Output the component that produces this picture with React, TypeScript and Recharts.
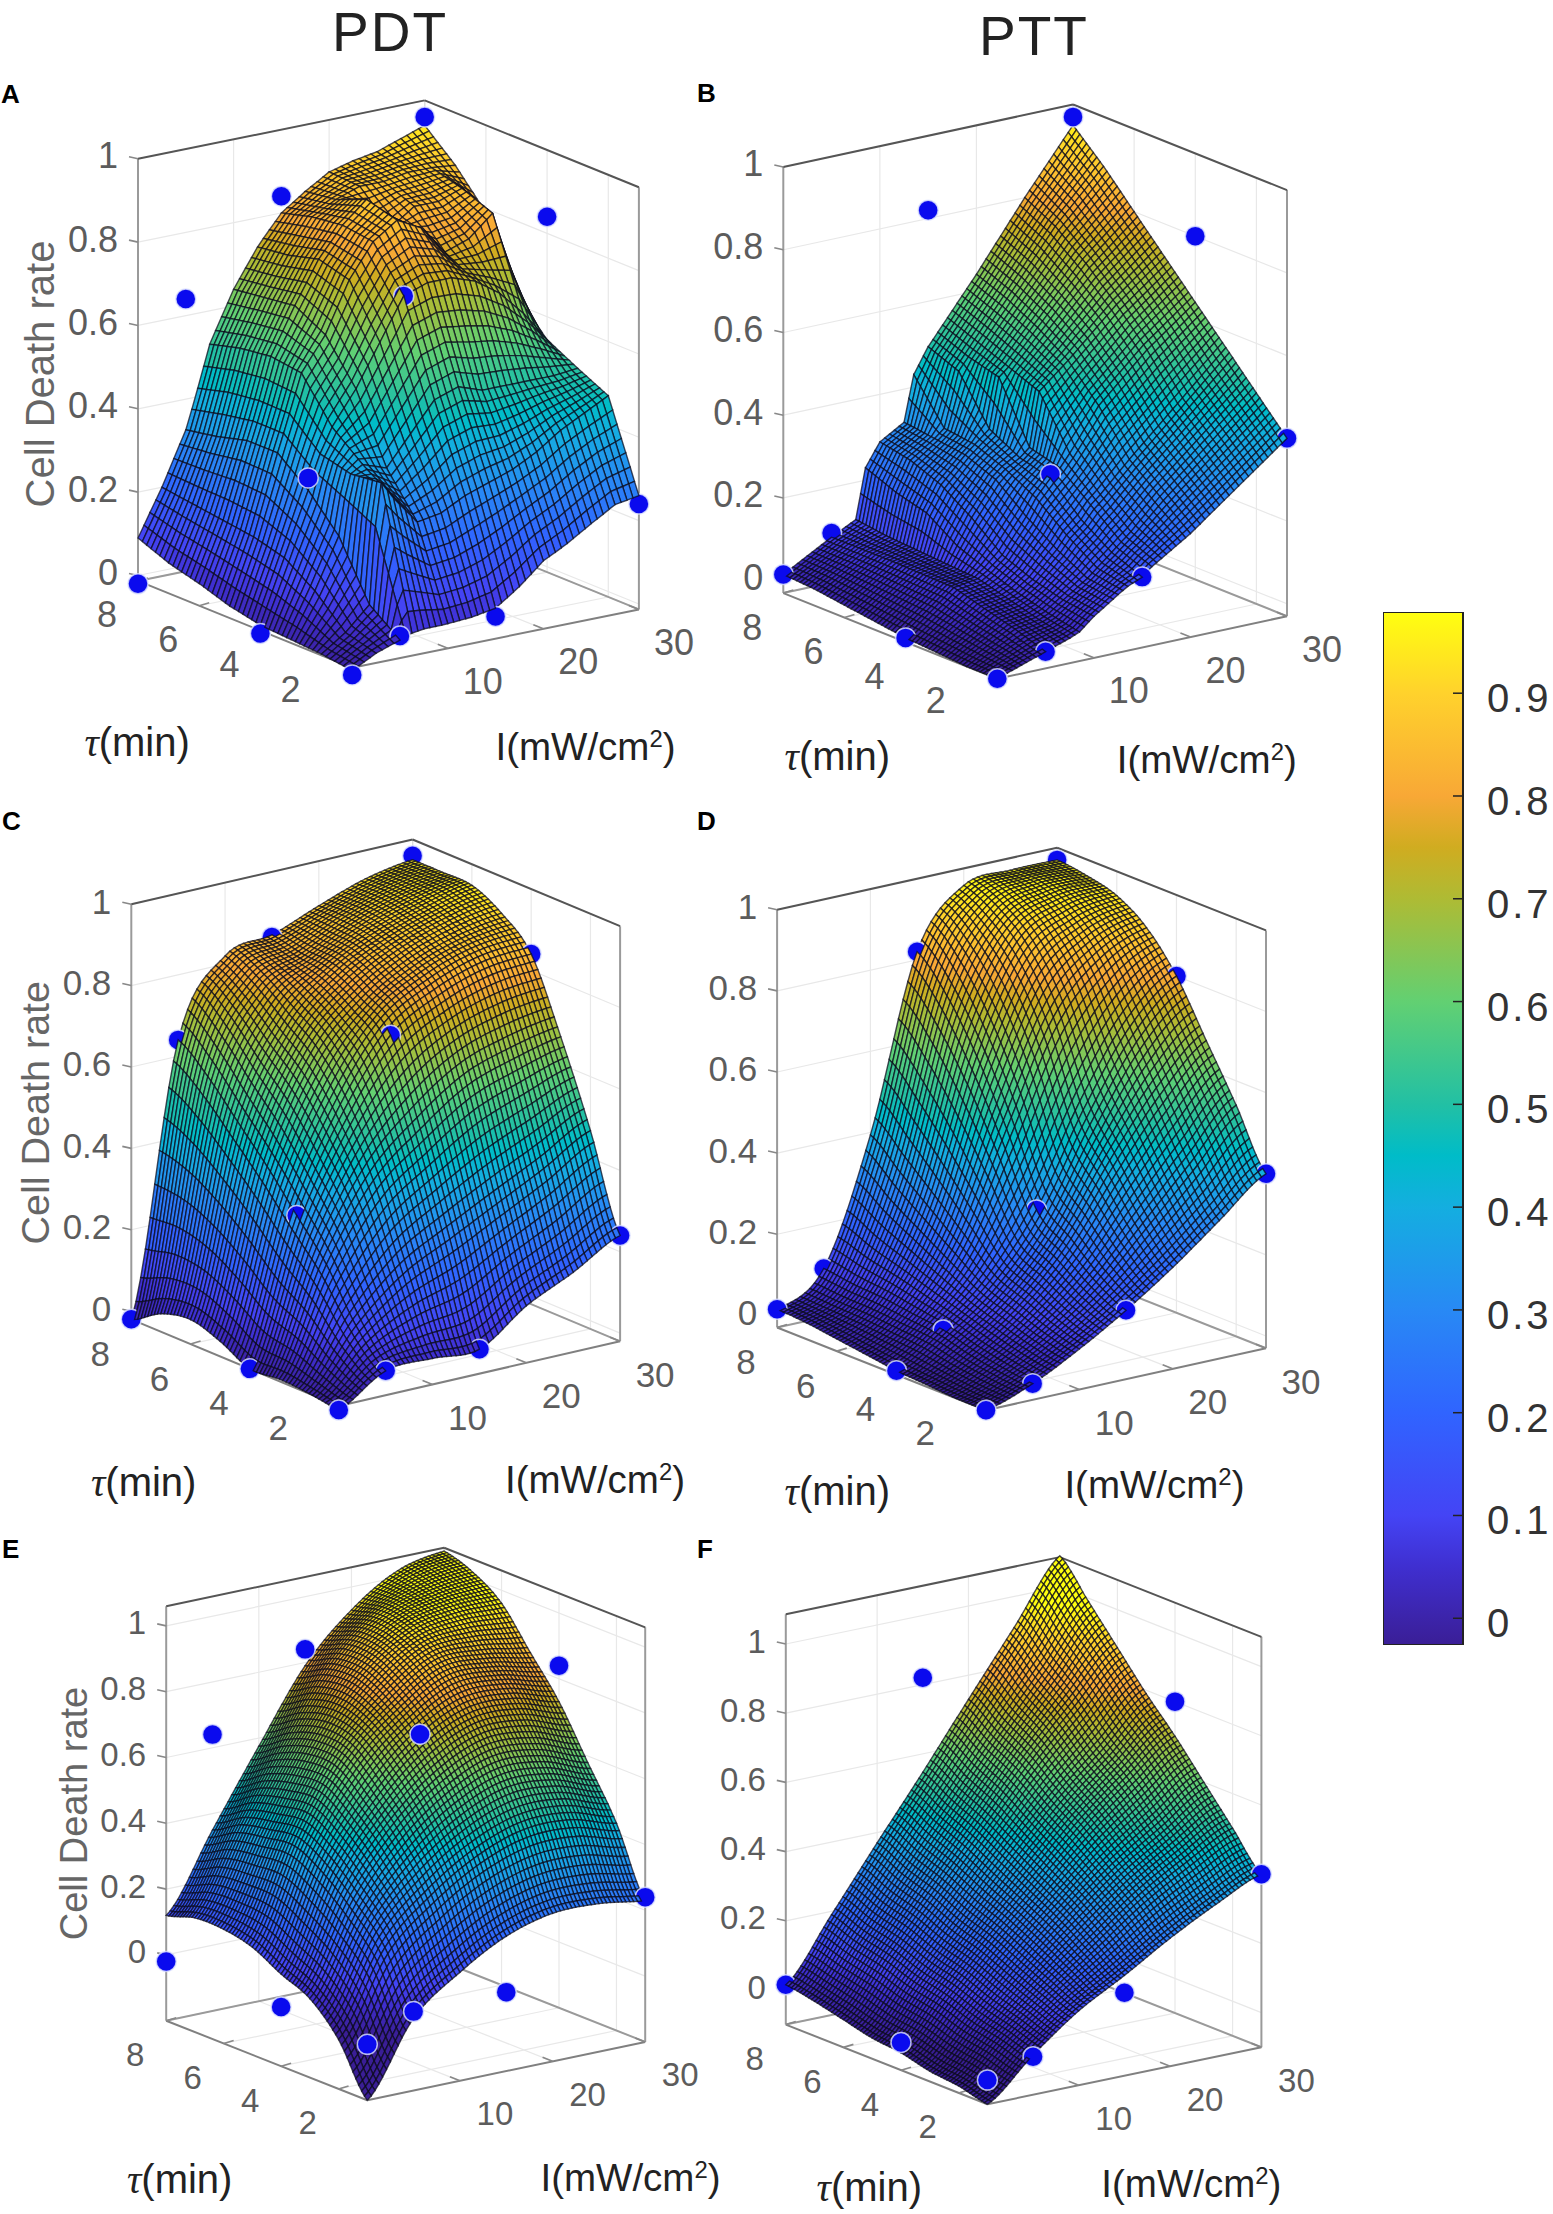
import React from 'react';
import { ScatterChart, Scatter, XAxis, YAxis, ComposedChart, Bar } from 'recharts';

const TAU_GRID = [1, 2, 3, 4, 5, 6, 7, 8];
const INTENSITY_GRID = [0, 5, 10, 15, 20, 25, 30];
const INTENSITY_GRID_A = [0, 2.5, 5, 6, 7.5, 10, 12.5, 15, 17.5, 20, 22.5, 25, 27.5, 30];
const INTENSITY_GRID_B = [0, 5, 7.5, 8.5, 10, 12.5, 13.5, 15, 16, 17, 20, 25, 30];
const Z_TICKS = [0, 0.2, 0.4, 0.6, 0.8, 1];
const TAU_TICKS = [2, 4, 6, 8];
const INTENSITY_TICKS = [10, 20, 30];
const COLORBAR_TICKS = [0, 0.1, 0.2, 0.3, 0.4, 0.5, 0.6, 0.7, 0.8, 0.9];

// surfaces: one row per tau in TAU_GRID, one column per intensity in the panel's grid
const SURFACE_A = [
  [-0.02, 0.01, 0.03, 0.04, 0.045, 0.046, 0.05, 0.06, 0.1, 0.15, 0.18, 0.216, 0.25, 0.26],
  [-0.01, 0.03, 0.085, 0.38, 0.33, 0.26, 0.27, 0.3, 0.32, 0.34, 0.37, 0.41, 0.44, 0.47],
  [-0.005, 0.1, 0.22, 0.36, 0.38, 0.36, 0.43, 0.5, 0.52, 0.5, 0.5, 0.5, 0.5, 0.506],
  [0, 0.15, 0.3, 0.37, 0.44, 0.52, 0.62, 0.72, 0.74, 0.74, 0.72, 0.68, 0.62, 0.545],
  [0.016, 0.17, 0.36, 0.43, 0.54, 0.62, 0.74, 0.82, 0.86, 0.83, 0.76, 0.78, 0.83, 0.62],
  [0.04, 0.18, 0.36, 0.43, 0.55, 0.66, 0.76, 0.83, 0.88, 0.8, 0.84, 0.84, 0.86, 0.79],
  [0.06, 0.19, 0.34, 0.42, 0.54, 0.65, 0.74, 0.82, 0.85, 0.87, 0.87, 0.88, 0.88, 0.874],
  [0.09, 0.2, 0.326, 0.4, 0.52, 0.64, 0.73, 0.8, 0.84, 0.875, 0.89, 0.9, 0.92, 0.94],
];
const SURFACE_B = [
  [-0.03, 0.01, 0.03, 0.04, 0.07, 0.11, 0.125, 0.14, 0.16, 0.175, 0.22, 0.31, 0.4],
  [-0.03, 0.035, 0.045, 0.055, 0.08, 0.12, 0.14, 0.17, 0.19, 0.21, 0.28, 0.38, 0.48],
  [-0.025, 0.055, 0.065, 0.075, 0.1, 0.16, 0.19, 0.22, 0.25, 0.27, 0.34, 0.45, 0.56],
  [-0.02, 0.076, 0.085, 0.1, 0.13, 0.21, 0.25, 0.29, 0.31, 0.34, 0.44, 0.55, 0.64],
  [-0.01, 0.078, 0.09, 0.13, 0.19, 0.27, 0.29, 0.31, 0.33, 0.46, 0.52, 0.63, 0.72],
  [0, 0.08, 0.095, 0.18, 0.24, 0.3, 0.32, 0.35, 0.47, 0.49, 0.57, 0.7, 0.8],
  [0.01, 0.08, 0.1, 0.2, 0.27, 0.31, 0.33, 0.46, 0.49, 0.52, 0.61, 0.76, 0.88],
  [0.015, 0.08, 0.11, 0.23, 0.285, 0.32, 0.43, 0.49, 0.52, 0.55, 0.64, 0.8, 0.95],
];
const SURFACE_C = [
  [-0.03, 0.04, 0.044, 0.04, 0.12, 0.176, 0.24],
  [-0.02, 0.12, 0.22, 0.28, 0.34, 0.4, 0.467],
  [-0.015, 0.24, 0.42, 0.52, 0.6, 0.64, 0.667],
  [-0.02, 0.33, 0.56, 0.72, 0.79, 0.83, 0.84],
  [0.017, 0.42, 0.66, 0.78, 0.85, 0.89, 0.91],
  [0.04, 0.5, 0.72, 0.82, 0.88, 0.92, 0.948],
  [0.024, 0.58, 0.78, 0.83, 0.89, 0.93, 0.95],
  [-0.02, 0.64, 0.82, 0.845, 0.89, 0.93, 0.95],
];
const SURFACE_D = [
  [-0.03, 0.01, 0.07, 0.14, 0.22, 0.31, 0.4],
  [-0.03, 0.02, 0.09, 0.18, 0.3, 0.42, 0.54],
  [-0.025, 0.035, 0.12, 0.24, 0.41, 0.56, 0.67],
  [-0.02, 0.055, 0.15, 0.3, 0.52, 0.7, 0.8],
  [-0.01, 0.065, 0.21, 0.47, 0.72, 0.84, 0.89],
  [0, 0.075, 0.27, 0.62, 0.85, 0.92, 0.94],
  [0.01, 0.08, 0.33, 0.74, 0.92, 0.96, 0.96],
  [0.015, 0.09, 0.394, 0.82, 0.958, 0.97, 0.97],
];
const SURFACE_E = [
  [-0.2, 0.02, 0.13, 0.21, 0.25, 0.25, 0.23],
  [-0.05, 0.2, 0.33, 0.42, 0.47, 0.47, 0.43],
  [0.04, 0.3, 0.47, 0.58, 0.64, 0.63, 0.58],
  [0.08, 0.38, 0.57, 0.7, 0.77, 0.77, 0.73],
  [0.127, 0.43, 0.65, 0.78, 0.87, 0.87, 0.845],
  [0.147, 0.42, 0.66, 0.83, 0.93, 0.96, 0.96],
  [0.147, 0.4, 0.63, 0.83, 0.95, 1.0, 1.02],
  [0.12, 0.35, 0.575, 0.79, 0.93, 1.02, 1.05],
];
const SURFACE_F = [
  [-0.1, 0.015, 0.115, 0.19, 0.27, 0.34, 0.4],
  [-0.08, 0.04, 0.15, 0.25, 0.35, 0.43, 0.5],
  [-0.07, 0.06, 0.19, 0.31, 0.42, 0.51, 0.6],
  [-0.05, 0.09, 0.23, 0.36, 0.49, 0.6, 0.7],
  [-0.04, 0.11, 0.26, 0.41, 0.55, 0.67, 0.79],
  [-0.02, 0.14, 0.3, 0.46, 0.62, 0.76, 0.89],
  [0, 0.16, 0.33, 0.5, 0.67, 0.83, 0.99],
  [0.015, 0.19, 0.37, 0.547, 0.73, 0.91, 1.09],
];

// measured points: one row per tau, one column per intensity
const MEASURED_TAU = [1, 4, 8];
const MEASURED_INTENSITY = [0, 5, 15, 30];
const PDT_MEASURED = [
  [-0.03, 0.04, 0.04, 0.24],
  [-0.02, 0.33, 0.72, 0.84],
  [-0.02, 0.64, 0.84, 0.96],
];
const PTT_MEASURED = [
  [-0.03, 0.01, 0.14, 0.4],
  [-0.02, 0.055, 0.3, 0.8],
  [0.015, 0.09, 0.82, 0.97],
];

// colour map
const COLOR_VALUES = [-0.03, 0.05, 0.1, 0.2, 0.3, 0.4, 0.45, 0.5, 0.6, 0.7, 0.75, 0.8, 0.9, 0.98];
const COLOR_HEX = ['#3a1e96', '#3f2fd0', '#4444f5', '#3064ff', '#2889f5', '#14aee0', '#00bcc8', '#22c0a4', '#62d072', '#aebb34', '#d0ac20', '#f8a836', '#ffd22c', '#ffff10'];
const COLORBAR_RANGE = [-0.026, 0.979];

// ---- Layout ---------------------------------------------------------------
type Pt = [number, number];
const PANELS = [
  { letter: 'A', region: [0, 0, 696, 790], letterAt: [1, 103], F: [352.2, 667.8], L: [138, 580.9], R: [638.9, 609.4], unit: 416.7, zMin: -0.013, zMax: 1.0, surface: SURFACE_A, iGrid: INTENSITY_GRID_A, smooth: false, mesh: [49, 48], measured: PDT_MEASURED, tauAt: [84.4, 756], iAt: [495.5, 760], cell: [40, 374], cellSize: 40, tickSize: 36, title: 'PDT', titleAt: [390, 51] },
  { letter: 'B', region: [696, 0, 674, 790], letterAt: [697, 102], F: [997.3, 678.7], L: [783.3, 593.1], R: [1287, 616.2], unit: 413.7, zMin: -0.03, zMax: 1.0, surface: SURFACE_B, iGrid: INTENSITY_GRID_B, smooth: false, mesh: [63, 60], measured: PTT_MEASURED, tauAt: [784.6, 769.7], iAt: [1116.7, 772.5], tickSize: 36, title: 'PTT', titleAt: [1034, 55] },
  { letter: 'C', region: [0, 790, 696, 730], letterAt: [2, 830], F: [338.8, 1406], L: [131.3, 1319.3], R: [620.1, 1341.3], unit: 407, zMin: -0.02, zMax: 1.0, surface: SURFACE_C, iGrid: INTENSITY_GRID, smooth: true, mesh: [63, 60], measured: PDT_MEASURED, tauAt: [91, 1495.6], iAt: [505, 1492.8], cell: [34.8, 1112.7], cellSize: 39.5, tickSize: 35 },
  { letter: 'D', region: [696, 790, 674, 730], letterAt: [697, 830], F: [986, 1410.2], L: [777.1, 1327.5], R: [1266, 1348.2], unit: 405.6, zMin: -0.03, zMax: 1.0, surface: SURFACE_D, iGrid: INTENSITY_GRID, smooth: true, mesh: [63, 60], measured: PTT_MEASURED, tauAt: [784.6, 1505.2], iAt: [1064.4, 1498.3], tickSize: 35 },
  { letter: 'E', region: [0, 1520, 760, 694], letterAt: [2, 1558], F: [367.3, 2100.3], L: [166.2, 2020.7], R: [645.2, 2041.9], unit: 329, zMin: -0.2, zMax: 1.06, surface: SURFACE_E, iGrid: INTENSITY_GRID, smooth: true, mesh: [70, 72], measured: PDT_MEASURED, tauAt: [127, 2193.3], iAt: [540.5, 2190.6], cell: [74, 1813.5], cellSize: 38, tickSize: 33 },
  { letter: 'F', region: [696, 1520, 674, 694], letterAt: [697, 1558], F: [987.4, 2104.3], L: [785.8, 2024.6], R: [1261.4, 2047.2], unit: 346, zMin: -0.1, zMax: 1.086, surface: SURFACE_F, iGrid: INTENSITY_GRID, smooth: true, mesh: [70, 72], measured: PTT_MEASURED, tauAt: [816.6, 2201.3], iAt: [1101.3, 2197.3], tickSize: 33 },
] as any[];

const SANS = '"Liberation Sans", Arial, sans-serif';
const SERIF = '"Liberation Serif", serif';

// ---- Helpers --------------------------------------------------------------
function hexRgb(h: string) {
  return [parseInt(h.slice(1, 3), 16), parseInt(h.slice(3, 5), 16), parseInt(h.slice(5, 7), 16)];
}
function colorOf(z: number) {
  const n = COLOR_VALUES.length;
  if (z <= COLOR_VALUES[0]) return COLOR_HEX[0];
  if (z >= COLOR_VALUES[n - 1]) return COLOR_HEX[n - 1];
  let k = 0;
  while (z > COLOR_VALUES[k + 1]) k++;
  const t = (z - COLOR_VALUES[k]) / (COLOR_VALUES[k + 1] - COLOR_VALUES[k]);
  const a = hexRgb(COLOR_HEX[k]);
  const b = hexRgb(COLOR_HEX[k + 1]);
  return `rgb(${a.map((v, i) => Math.round(v + (b[i] - v) * t)).join(',')})`;
}
function project(p: any, tau: number, I: number, z: number): Pt {
  const a = (tau - 1) / 7;
  const b = I / 30;
  const x = p.F[0] + a * (p.L[0] - p.F[0]) + b * (p.R[0] - p.F[0]);
  const y = p.F[1] + a * (p.L[1] - p.F[1]) + b * (p.R[1] - p.F[1]) - (z - p.zMin) * p.unit;
  return [x - p.region[0], y - p.region[1]];
}
function cubic(a: number, b: number, c: number, d: number, t: number) {
  return b + 0.5 * t * (c - a + t * (2 * a - 5 * b + 4 * c - d + t * (3 * (b - c) + d - a)));
}
function blend(vals: number[], u: number, smooth: boolean) {
  const n = vals.length;
  const i = Math.min(Math.floor(u), n - 2);
  const t = u - i;
  if (!smooth) return vals[i] + (vals[i + 1] - vals[i]) * t;
  const at = (k: number) => vals[Math.max(0, Math.min(n - 1, k))];
  return cubic(at(i - 1), at(i), at(i + 1), at(i + 2), t);
}
function gridPosition(grid: number[], v: number) {
  let k = 0;
  while (k < grid.length - 2 && v > grid[k + 1]) k++;
  return k + (v - grid[k]) / (grid[k + 1] - grid[k]);
}
function heightAt(p: any, tau: number, I: number) {
  const u = gridPosition(TAU_GRID, tau);
  const v = gridPosition(p.iGrid, I);
  return blend(p.surface.map((row: number[]) => blend(row, v, p.smooth)), u, p.smooth);
}

function buildFrame(p: any) {
  const out: any[] = [];
  const seg = (a: Pt, b: Pt, color: string, width: number) =>
    out.push({ x: a[0], y: a[1], dx: b[0] - a[0], dy: b[1] - a[1], color, width });
  const T0 = 1, T1 = 8, I0 = 0, I1 = 30;
  const grid = '#e8e8e8';
  for (const z of Z_TICKS) {
    seg(project(p, T1, I0, z), project(p, T1, I1, z), grid, 1.2);
    seg(project(p, T1, I1, z), project(p, T0, I1, z), grid, 1.2);
  }
  for (const t of TAU_TICKS) {
    seg(project(p, t, I0, p.zMin), project(p, t, I1, p.zMin), grid, 1.2);
    seg(project(p, t, I1, p.zMin), project(p, t, I1, p.zMax), grid, 1.2);
  }
  for (const i of INTENSITY_TICKS) {
    seg(project(p, T0, i, p.zMin), project(p, T1, i, p.zMin), grid, 1.2);
    seg(project(p, T1, i, p.zMin), project(p, T1, i, p.zMax), grid, 1.2);
  }
  const edge = '#9a9a9a';
  seg(project(p, T1, I1, p.zMin), project(p, T1, I1, p.zMax), '#dcdcdc', 1.2);
  seg(project(p, T1, I0, p.zMin), project(p, T1, I1, p.zMin), edge, 2);
  seg(project(p, T1, I1, p.zMin), project(p, T0, I1, p.zMin), edge, 2);
  seg(project(p, T1, I0, p.zMin), project(p, T1, I0, p.zMax), edge, 2);
  seg(project(p, T0, I1, p.zMin), project(p, T0, I1, p.zMax), edge, 2);
  seg(project(p, T1, I0, p.zMin), project(p, T0, I0, p.zMin), '#808080', 2);
  seg(project(p, T0, I0, p.zMin), project(p, T0, I1, p.zMin), '#808080', 2);
  seg(project(p, T1, I0, p.zMax), project(p, T1, I1, p.zMax), '#555555', 2);
  seg(project(p, T1, I1, p.zMax), project(p, T0, I1, p.zMax), '#555555', 2);
  for (const z of Z_TICKS) {
    const a = project(p, T1, I0, z);
    seg(a, [a[0] - 9, a[1] - 2], '#888888', 1.6);
  }
  for (const t of TAU_TICKS) {
    const a = project(p, t, I0, p.zMin);
    seg(a, [a[0] + 10, a[1] - 3], '#888888', 1.6);
  }
  for (const i of INTENSITY_TICKS) {
    const a = project(p, T0, i, p.zMin);
    seg(a, [a[0] - 10, a[1] - 4], '#888888', 1.6);
  }
  return out;
}

function buildDots(p: any) {
  const below: any[] = [];
  const near: any[] = [];
  const above: any[] = [];
  MEASURED_TAU.forEach((tau, r) => {
    MEASURED_INTENSITY.forEach((I, c) => {
      const z = p.measured[r][c];
      const [x, y] = project(p, tau, I, z);
      const s = heightAt(p, tau, I);
      const dot = { kind: 'dot', x, y, depth: (tau - 1) / 7 + I / 30 };
      if (z < s - 0.02) below.push(dot);
      else if (z < s + 0.015) near.push(dot);
      else above.push(dot);
    });
  });
  return { below, near, above };
}

function buildScene(p: any, near: any[]) {
  const [rows, cols] = p.mesh;
  const tauOf = (r: number) => 1 + (7 * r) / rows;
  const iOf = (c: number) => (30 * c) / cols;
  const H: number[][] = [];
  for (let r = 0; r <= rows; r++) {
    const line: number[] = [];
    for (let c = 0; c <= cols; c++) line.push(heightAt(p, tauOf(r), iOf(c)));
    H.push(line);
  }
  const items: any[] = [];
  for (let r = 0; r < rows; r++) {
    for (let c = 0; c < cols; c++) {
      const corners = [
        project(p, tauOf(r), iOf(c), H[r][c]),
        project(p, tauOf(r + 1), iOf(c), H[r + 1][c]),
        project(p, tauOf(r + 1), iOf(c + 1), H[r + 1][c + 1]),
        project(p, tauOf(r), iOf(c + 1), H[r][c + 1]),
      ];
      const cx = (corners[0][0] + corners[2][0]) / 2;
      const cy = (corners[0][1] + corners[2][1]) / 2;
      items.push({
        kind: 'quad',
        x: cx,
        y: cy,
        rel: corners.map((q) => [q[0] - cx, q[1] - cy]),
        color: colorOf((H[r][c] + H[r + 1][c] + H[r + 1][c + 1] + H[r][c + 1]) / 4),
        depth: (r + 0.5) / rows + (c + 0.5) / cols,
      });
    }
  }
  return [...items, ...near].sort((a, b) => b.depth - a.depth);
}

function buildLabels(p: any) {
  const [ox, oy] = p.region;
  const out: any[] = [];
  const add = (x: number, y: number, o: any) => out.push({ x: x - ox, y: y - oy, ...o });
  add(p.letterAt[0], p.letterAt[1], { text: p.letter, size: 26, weight: 700, fill: '#000', anchor: 'start' });
  if (p.title) add(p.titleAt[0], p.titleAt[1], { text: p.title, size: 55, spacing: 2, fill: '#222', anchor: 'middle' });
  if (p.cell) add(p.cell[0], p.cell[1], { text: 'Cell Death rate', size: p.cellSize, fill: '#666', anchor: 'middle', rotate: true });
  add(p.tauAt[0], p.tauAt[1], { kind: 'tau', size: 40, fill: '#222', anchor: 'start' });
  add(p.iAt[0], p.iAt[1], { kind: 'intensity', size: 38.5, fill: '#222', anchor: 'start' });
  const tick = (a: Pt, dx: number, dy: number, text: string, anchor: string) =>
    out.push({ x: a[0] + dx, y: a[1] + dy, text, size: p.tickSize, fill: '#5c5c5c', anchor, central: true });
  for (const z of Z_TICKS) tick(project(p, 8, 0, z), -20, -3, String(z), 'end');
  for (const t of TAU_TICKS) tick(project(p, t, 0, p.zMin), -31, 34, String(t), 'middle');
  for (const i of INTENSITY_TICKS) tick(project(p, 1, i, p.zMin), 35, 33, String(i), 'middle');
  return out;
}

// ---- Shapes ---------------------------------------------------------------
const segmentShape = (props: any) => {
  const { cx, cy, payload: s } = props;
  return <line x1={cx} y1={cy} x2={cx + s.dx} y2={cy + s.dy} stroke={s.color} strokeWidth={s.width} />;
};
const Dot = ({ cx, cy }: any) => (
  <circle cx={cx} cy={cy} r={10} fill="#0a0aee" stroke="#dfe4ff" strokeOpacity={0.8} strokeWidth={1.5} />
);
const sceneShape = (props: any) => {
  const { cx, cy, payload: s } = props;
  if (s.kind === 'dot') return <Dot cx={cx} cy={cy} />;
  const d = 'M' + s.rel.map((q: number[]) => `${(cx + q[0]).toFixed(1)} ${(cy + q[1]).toFixed(1)}`).join('L') + 'Z';
  return <path d={d} fill={s.color} stroke="#0a0a1a" strokeOpacity={0.72} strokeWidth={1.4} />;
};
const dotShape = (props: any) => <Dot cx={props.cx} cy={props.cy} />;
const labelShape = (props: any) => {
  const { cx, cy, payload: s } = props;
  const common: any = {
    x: cx,
    y: cy,
    fontFamily: SANS,
    fontSize: s.size,
    fill: s.fill,
    textAnchor: s.anchor,
    fontWeight: s.weight || 400,
  };
  if (s.spacing) common.letterSpacing = s.spacing;
  if (s.central) common.dominantBaseline = 'central';
  if (s.rotate) {
    common.transform = `rotate(-90 ${cx} ${cy})`;
    common.dominantBaseline = 'central';
  }
  if (s.kind === 'tau') {
    return (
      <text {...common}>
        <tspan fontFamily={SERIF} fontStyle="italic">τ</tspan>
        <tspan>(min)</tspan>
      </text>
    );
  }
  if (s.kind === 'intensity') {
    return (
      <text {...common}>
        I(mW/cm
        <tspan dy={-13} fontSize={s.size * 0.62}>2</tspan>
        <tspan dy={13}>)</tspan>
      </text>
    );
  }
  return <text {...common}>{s.text}</text>;
};

// ---- Components -----------------------------------------------------------
function Panel({ p }: { p: any }) {
  const [ox, oy, w, h] = p.region;
  const dots = buildDots(p);
  const frame = buildFrame(p);
  const scene = buildScene(p, dots.near);
  const labels = buildLabels(p);
  return (
    <div style={{ position: 'absolute', left: ox, top: oy, width: w, height: h }}>
      <ScatterChart width={w} height={h} margin={{ top: 0, right: 0, bottom: 0, left: 0 }}>
        <XAxis type="number" dataKey="x" domain={[0, w]} hide />
        <YAxis type="number" dataKey="y" domain={[0, h]} reversed hide />
        <Scatter name="frame" data={frame} shape={segmentShape} isAnimationActive={false} />
        <Scatter name="labels" data={labels} shape={labelShape} isAnimationActive={false} />
        {dots.below.length > 0 && <Scatter name="measured below surface" data={dots.below} shape={dotShape} isAnimationActive={false} />}
        <Scatter name="surface" data={scene} shape={sceneShape} isAnimationActive={false} />
        {dots.above.length > 0 && <Scatter name="measured above surface" data={dots.above} shape={dotShape} isAnimationActive={false} />}
      </ScatterChart>
    </div>
  );
}

const colorbarData = [{ name: 'cell death rate', span: COLORBAR_RANGE }];
const CB_LEFT = 1383;
const CB_TOP = 612;
const CB_WIDTH = 80;
const CB_HEIGHT = 1033;

const colorTick = (props: any) => {
  const { y, payload } = props;
  return (
    <g>
      <line x1={CB_WIDTH - 10} x2={CB_WIDTH} y1={y} y2={y} stroke="#222" strokeWidth={1.5} />
      <text x={CB_WIDTH + 24} y={y + 5} fontFamily={SANS} fontSize={40} letterSpacing={3} fill="#333" dominantBaseline="central">
        {String(payload.value)}
      </text>
    </g>
  );
};

function Colorbar() {
  const [lo, hi] = COLORBAR_RANGE;
  return (
    <div style={{ position: 'absolute', left: CB_LEFT, top: CB_TOP, width: 170, height: CB_HEIGHT }}>
      <ComposedChart width={170} height={CB_HEIGHT} data={colorbarData} margin={{ top: 0, right: 0, bottom: 0, left: 0 }} barCategoryGap={0}>
        <defs>
          <linearGradient id="parula" x1="0" y1="1" x2="0" y2="0">
            {COLOR_VALUES.map((v, i) => (
              <stop key={v} offset={(Math.max(v, lo) - lo) / (hi - lo)} stopColor={COLOR_HEX[i]} />
            ))}
          </linearGradient>
        </defs>
        <XAxis dataKey="name" hide />
        <YAxis orientation="right" width={90} domain={[lo, hi]} ticks={COLORBAR_TICKS} interval={0} axisLine={false} tickLine={false} tick={colorTick} type="number" allowDataOverflow />
        <Bar dataKey="span" fill="url(#parula)" stroke="#222" strokeWidth={2} isAnimationActive={false} />
      </ComposedChart>
    </div>
  );
}

export default function App() {
  return (
    <div style={{ position: 'absolute', left: 0, top: 0, width: 1553, height: 2214, background: '#fff', overflow: 'hidden' }}>
      {PANELS.map((p) => (
        <Panel key={p.letter} p={p} />
      ))}
      <Colorbar />
    </div>
  );
}
